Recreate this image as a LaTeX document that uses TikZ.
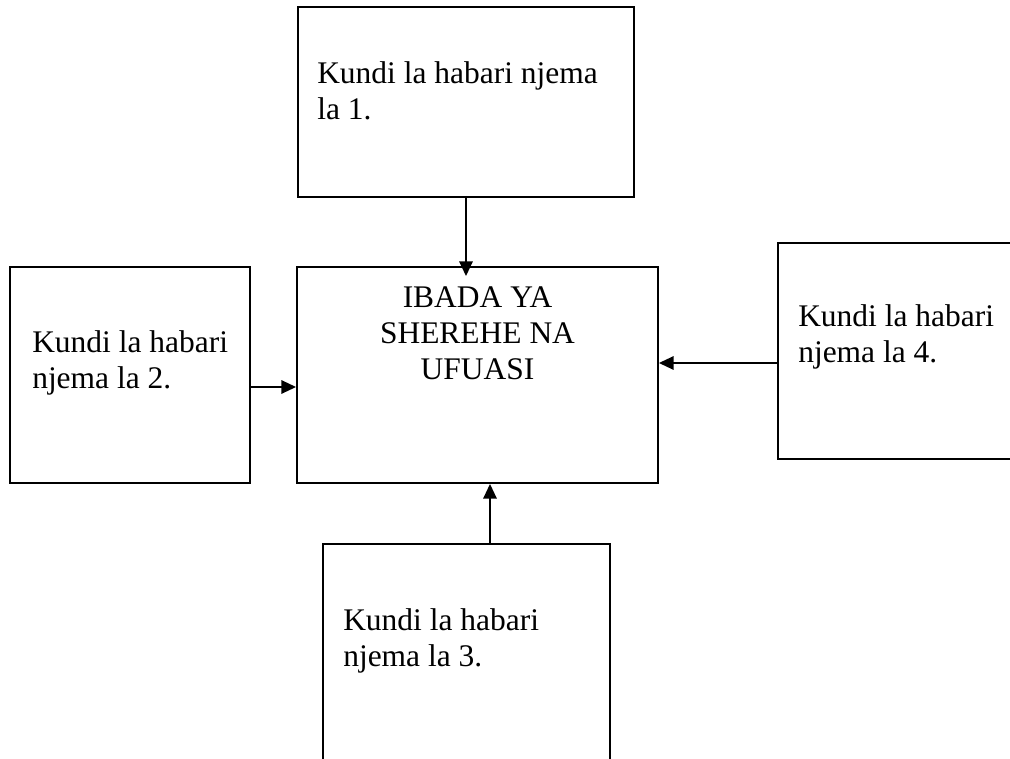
\documentclass[tikz,border=0pt]{standalone}
\usepackage{fontspec}
\setmainfont{Liberation Serif}
\usetikzlibrary{arrows.meta,fit,calc}
\begin{document}
\begin{tikzpicture}[x=0.75pt,y=-0.75pt,
  box/.style={draw=black,line width=1.4pt,inner sep=0pt,rectangle},
  txt/.style={inner sep=0pt,font=\fontsize{23.6}{27}\selectfont},
  arr/.style={draw=black,line width=1.4pt,-{Triangle[length=11pt,width=10pt]}}]
\useasboundingbox (0,0) rectangle (1010,759);
\clip (0,0) rectangle (1010,759);
\fill[white] (0,0) rectangle (1010,759);
% boxes
\node[box,fit={(298,7)(634,197)}] (b1) {};
\node[box,fit={(297,267)(658,483)}] (c) {};
\node[box,fit={(10,267)(250,483)}] (b2) {};
\node[box,fit={(778,243)(1030,459)}] (b4) {};
\node[box,fit={(323,544)(610,780)}] (b3) {};
% texts
\node[txt,anchor=north west,align=left] (t1) at (317,61.5) {Kundi la habari njema\\la 1.};
\node[txt,anchor=north,align=center] (tc) at (477.5,286) {IBADA YA\\SHEREHE NA\\UFUASI};
\node[txt,anchor=north west,align=left] (t2) at (32,330) {Kundi la habari\\njema la 2.};
\node[txt,anchor=north west,align=left] (t4) at (798,304) {Kundi la habari\\njema la 4.};
\node[txt,anchor=north west,align=left] (t3) at (343,608) {Kundi la habari\\njema la 3.};
% arrow end points
\coordinate (a1) at ($(b1.south)+(0,-2)$);
\coordinate (a3) at ($(c.south)+(12.5,0)$);
% arrows
\draw[arr] (a1) -- ($(b1.south |- c.north)+(0,10)$);
\draw[arr] ($(b2.east)+(0,12)$) -- ($(c.west)+(0,12)$);
\draw[arr] ($(b4.west)+(0,12)$) -- ($(b4.west -| c.east)+(0,12)$);
\draw[arr] (a3 |- b3.north) -- (a3);
\end{tikzpicture}
\end{document}
